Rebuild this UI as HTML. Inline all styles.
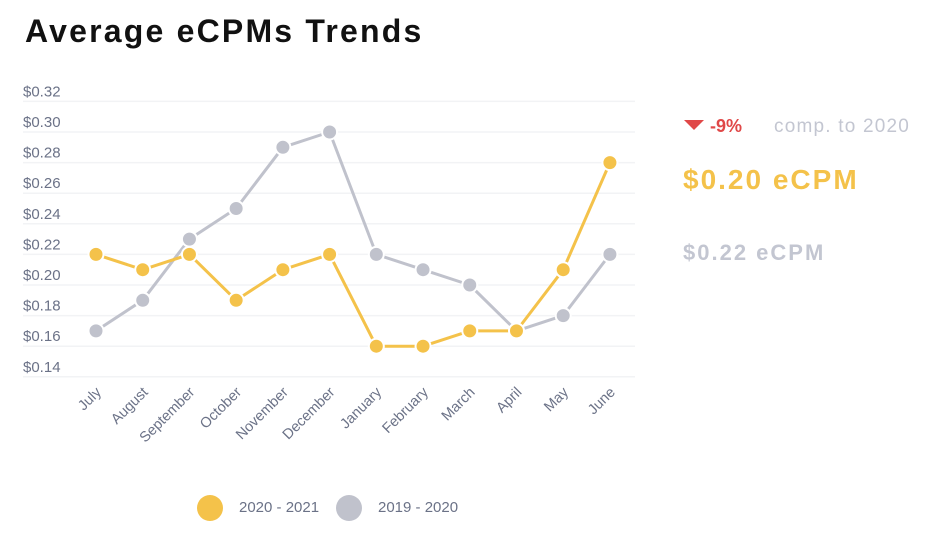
<!DOCTYPE html>
<html><head><meta charset="utf-8"><style>
body{margin:0;width:935px;height:554px;background:#fff;font-family:"Liberation Sans",sans-serif;overflow:hidden;position:relative}
.abs{position:absolute;white-space:nowrap}
</style></head><body>
<div class="abs" style="left:25px;top:13px;font-size:32px;font-weight:bold;color:#111;letter-spacing:2.2px">Average eCPMs Trends</div>
<svg id="chart" width="935" height="554" style="position:absolute;left:0;top:0"></svg>
<div class="abs" style="left:684px;top:116px;font-size:18px;font-weight:bold;color:#e04848"><span style="display:inline-block;width:0;height:0;border-left:10px solid transparent;border-right:10px solid transparent;border-top:10px solid #e04848;margin-right:6px;vertical-align:2px"></span>-9%</div>
<div class="abs" style="left:774px;top:116px;font-size:19px;color:#c3c6d1;letter-spacing:1.2px">comp. to 2020</div>
<div class="abs" style="left:683px;top:164px;font-size:28px;font-weight:bold;color:#f4c24a;letter-spacing:2px">$0.20 eCPM</div>
<div class="abs" style="left:683px;top:240px;font-size:22px;font-weight:bold;color:#c3c6d1;letter-spacing:2px">$0.22 eCPM</div>
<div class="abs" style="left:197px;top:495px;font-size:15px;color:#6b7287"><span style="display:inline-block;width:26px;height:26px;border-radius:50%;background:#f4c24a;vertical-align:middle;margin-right:16px"></span>2020 - 2021</div>
<div class="abs" style="left:336px;top:495px;font-size:15px;color:#6b7287"><span style="display:inline-block;width:26px;height:26px;border-radius:50%;background:#c0c2cc;vertical-align:middle;margin-right:16px"></span>2019 - 2020</div>
<script>
const categories=["July","August","September","October","November","December","January","February","March","April","May","June"];
const series2021=[0.22,0.21,0.22,0.19,0.21,0.22,0.16,0.16,0.17,0.17,0.21,0.28];
const series2020=[0.17,0.19,0.23,0.25,0.29,0.30,0.22,0.21,0.20,0.17,0.18,0.22];
const yTicks=[0.14,0.16,0.18,0.20,0.22,0.24,0.26,0.28,0.30,0.32];
const NS="http://www.w3.org/2000/svg";
const svg=document.getElementById('chart');
function y(v){return 132+(0.30-v)*1530;}
function x(i){return 96+i*46.72;}
function mk(t,a){const e=document.createElementNS(NS,t);for(const k in a)e.setAttribute(k,a[k]);svg.appendChild(e);return e;}
yTicks.forEach(v=>{
 const g=mk('line',{x1:23,x2:635,y1:y(v),y2:y(v),stroke:'#f2f3f5','stroke-width':1.5});
 
 
 const t=mk('text',{x:23,y:y(v)-5,'font-size':15,fill:'#6b7287','font-family':'Liberation Sans, sans-serif'});
 t.textContent='$'+v.toFixed(2);
 
 
});
categories.forEach((c,i)=>{
 const t=mk('text',{x:x(i)+6,y:393,'font-size':14.5,fill:'#6b7287','text-anchor':'end','font-family':'Liberation Sans, sans-serif',transform:`rotate(-45 ${x(i)+6} 393)`});
 t.textContent=c;
 
 
});
function draw(data,color,name){
 const p=mk('polyline',{points:data.map((v,i)=>x(i)+','+y(v)).join(' '),fill:'none',stroke:color,'stroke-width':3,'stroke-linejoin':'round'});
 
 
 data.forEach((v,i)=>{
  const c=mk('circle',{cx:x(i),cy:y(v),r:7.5,fill:color,stroke:'#fff','stroke-width':2});
  
  
 });
}
draw(series2020,'#c0c2cc','series-2019-2020');
draw(series2021,'#f4c24a','series-2020-2021');
</script>
</body></html>
